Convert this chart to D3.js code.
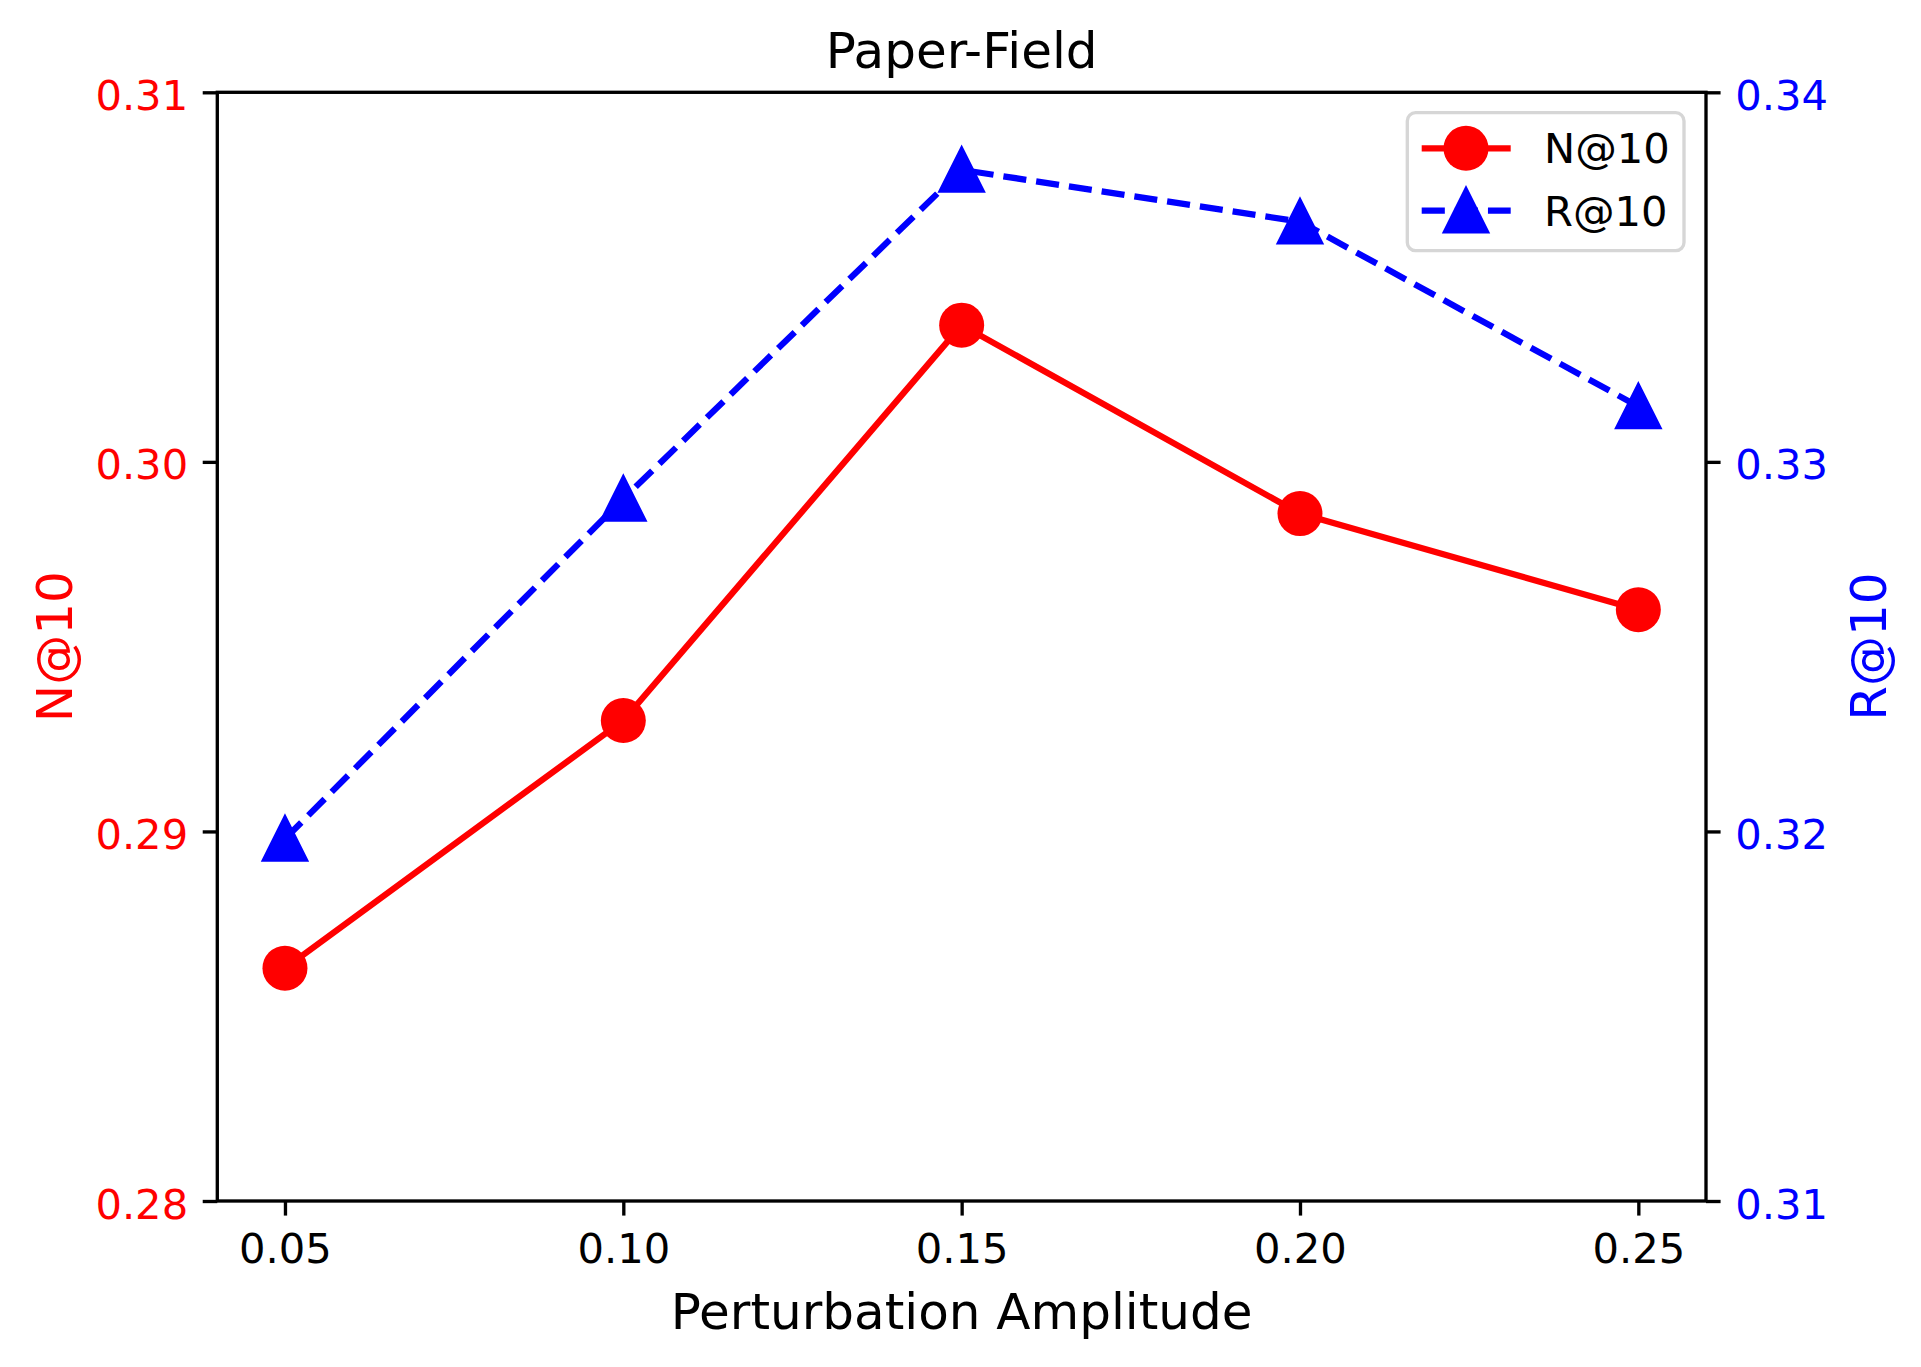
<!DOCTYPE html>
<html>
<head>
<meta charset="utf-8">
<script src="https://cdn.jsdelivr.net/npm/d3@7"></script>
<style>
  html, body { margin: 0; padding: 0; background: #fff; }
  svg { display: block; font-family: "DejaVu Sans", sans-serif; }
</style>
</head>
<body>
<svg id="chart" width="1921" height="1367"></svg>
<script>
// ---- data ----
const amplitudes = [0.05, 0.10, 0.15, 0.20, 0.25];
const ndcg10 = [0.2863, 0.2930, 0.3037, 0.2986, 0.2960];
const recall10 = [0.3198, 0.3290, 0.3379, 0.3365, 0.3315];
const xTicks = [0.05, 0.10, 0.15, 0.20, 0.25];
const leftTicks = [0.28, 0.29, 0.30, 0.31];
const rightTicks = [0.31, 0.32, 0.33, 0.34];
const seriesNames = ["N@10", "R@10"];
const titleText = "Paper-Field";
const xLabelText = "Perturbation Amplitude";

// ---- layout ----
const L = 217.3, R = 1706, T = 92.3, B = 1201;
const pt = 300 / 72;
const tickLen = 3.5 * pt, tickPad = 3.5 * pt;
const tickFont = 10 * pt, labelFont = 12 * pt;
const lw = 1.5 * pt;
const markR = 22.5;
const triH = 5 * pt;

const svg = d3.select("#chart");

const x = d3.scaleLinear().domain([0.04, 0.26]).range([L, R]);
const yL = d3.scaleLinear().domain([0.28, 0.31]).range([B, T]);
const yR = d3.scaleLinear().domain([0.31, 0.34]).range([B, T]);

function styleAxis(g, color) {
  g.select(".domain").remove();
  g.selectAll(".tick line").attr("stroke", "#000").attr("stroke-width", 0.8 * pt);
  g.selectAll(".tick text").attr("fill", color).attr("font-size", tickFont)
    .attr("font-family", "DejaVu Sans");
}

// x axis
const gx = svg.append("g").attr("transform", `translate(0,${B})`)
  .call(d3.axisBottom(x).tickValues(xTicks).tickFormat(d3.format(".2f"))
    .tickSize(tickLen).tickPadding(tickPad));
styleAxis(gx, "#000");
gx.selectAll(".tick text").attr("dy", "0.79em");

// left axis
const gl = svg.append("g").attr("transform", `translate(${L},0)`)
  .call(d3.axisLeft(yL).tickValues(leftTicks).tickFormat(d3.format(".2f"))
    .tickSize(tickLen).tickPadding(tickPad));
styleAxis(gl, "red");
gl.selectAll(".tick text").attr("dy", "0.41em");

// right axis
const gr = svg.append("g").attr("transform", `translate(${R},0)`)
  .call(d3.axisRight(yR).tickValues(rightTicks).tickFormat(d3.format(".2f"))
    .tickSize(tickLen).tickPadding(tickPad));
styleAxis(gr, "blue");
gr.selectAll(".tick text").attr("dy", "0.41em");

// spines
svg.append("rect").attr("x", L).attr("y", T).attr("width", R - L).attr("height", B - T)
  .attr("fill", "none").attr("stroke", "#000").attr("stroke-width", 0.8 * pt);

// shapes
const triPath = `M0,${-triH}L${-triH},${triH}L${triH},${triH}Z`;

// N@10 series (red, solid, circles)
const lineN = d3.line().x((d, i) => x(amplitudes[i])).y(d => yL(d));
svg.append("path").datum(ndcg10).attr("d", lineN)
  .attr("fill", "none").attr("stroke", "red").attr("stroke-width", lw)
  .attr("stroke-linejoin", "round").attr("stroke-linecap", "butt");
svg.selectAll(".mN").data(ndcg10).enter().append("circle")
  .attr("cx", (d, i) => x(amplitudes[i])).attr("cy", d => yL(d))
  .attr("r", markR).attr("fill", "red");

// R@10 series (blue, dashed, triangles)
const lineR = d3.line().x((d, i) => x(amplitudes[i])).y(d => yR(d));
const dash = `${3.7 * 1.5 * pt},${1.6 * 1.5 * pt}`;
svg.append("path").datum(recall10).attr("d", lineR)
  .attr("fill", "none").attr("stroke", "blue").attr("stroke-width", lw)
  .attr("stroke-dasharray", dash).attr("stroke-linejoin", "round");
svg.selectAll(".mR").data(recall10).enter().append("path")
  .attr("transform", (d, i) => `translate(${x(amplitudes[i])},${yR(d)})`)
  .attr("d", triPath).attr("fill", "blue").attr("stroke", "blue")
  .attr("stroke-width", 1 * pt).attr("stroke-linejoin", "miter");

// title & labels
svg.append("text").attr("x", (L + R) / 2).attr("y", 68).attr("text-anchor", "middle")
  .attr("font-size", labelFont).attr("fill", "#000").text(titleText);
svg.append("text").attr("x", (L + R) / 2).attr("y", 1329).attr("text-anchor", "middle")
  .attr("font-size", labelFont).attr("fill", "#000").text(xLabelText);
svg.append("text").attr("transform", `translate(72,${(T + B) / 2}) rotate(-90)`)
  .attr("text-anchor", "middle").attr("font-size", labelFont).attr("fill", "red")
  .text(seriesNames[0]);
svg.append("text").attr("transform", `translate(1886,${(T + B) / 2}) rotate(-90)`)
  .attr("text-anchor", "middle").attr("font-size", labelFont).attr("fill", "blue")
  .text(seriesNames[1]);

// legend
const lg = svg.append("g");
lg.append("rect").attr("x", 1407.3).attr("y", 112.7).attr("width", 1684 - 1407.3)
  .attr("height", 250.7 - 112.7).attr("rx", 8.3).attr("ry", 8.3)
  .attr("fill", "rgba(255,255,255,0.8)").attr("stroke", "#d6d6d6").attr("stroke-width", 1 * pt * 0.8);
const lx0 = 1421.7, lx1 = 1510.7, lmx = 1466, ltx = 1544;
const rows = [148.3, 210.5];
lg.append("line").attr("x1", lx0).attr("x2", lx1).attr("y1", rows[0]).attr("y2", rows[0])
  .attr("stroke", "red").attr("stroke-width", lw);
lg.append("circle").attr("cx", lmx).attr("cy", rows[0]).attr("r", markR).attr("fill", "red");
lg.append("text").attr("x", ltx).attr("y", rows[0]).attr("dy", "0.36em")
  .attr("font-size", tickFont).attr("fill", "#000").text(seriesNames[0]);
lg.append("line").attr("x1", lx0).attr("x2", lx1).attr("y1", rows[1]).attr("y2", rows[1])
  .attr("stroke", "blue").attr("stroke-width", lw).attr("stroke-dasharray", dash);
lg.append("path").attr("transform", `translate(${lmx},${rows[1]})`).attr("d", triPath)
  .attr("fill", "blue").attr("stroke", "blue").attr("stroke-width", 1 * pt).attr("stroke-linejoin", "miter");
lg.append("text").attr("x", ltx).attr("y", rows[1]).attr("dy", "0.36em")
  .attr("font-size", tickFont).attr("fill", "#000").text(seriesNames[1]);
</script>
</body>
</html>
